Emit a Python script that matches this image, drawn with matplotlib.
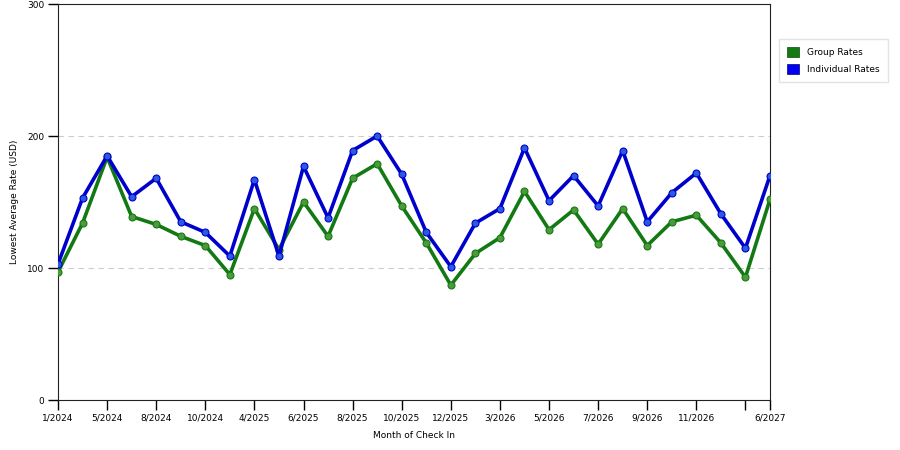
import matplotlib
matplotlib.use("Agg")
import matplotlib.pyplot as plt
from matplotlib.patches import Rectangle

months = ["1/2024", "3/2024", "5/2024", "7/2024", "8/2024", "9/2024",
          "10/2024", "3/2025", "4/2025", "5/2025", "6/2025", "7/2025",
          "8/2025", "9/2025", "10/2025", "11/2025", "12/2025", "2/2026",
          "3/2026", "4/2026", "5/2026", "6/2026", "7/2026", "8/2026",
          "9/2026", "10/2026", "11/2026", "12/2026", "4/2027", "6/2027"]

group_rates = [97, 134, 184, 139, 133, 124, 117, 95, 145, 114,
               150, 124, 168, 179, 147, 119, 87, 111, 123, 158,
               129, 144, 118, 145, 117, 135, 140, 119, 93, 152]

individual_rates = [103, 153, 185, 154, 168, 135, 127, 109, 167, 109,
                    177, 138, 189, 200, 171, 127, 101, 134, 145, 191,
                    151, 170, 147, 189, 135, 157, 172, 141, 115, 170]

tick_idx = [0, 2, 4, 6, 8, 10, 12, 14, 16, 18, 20, 22, 24, 26, 28, 29]
unlabeled = [28]

fig = plt.figure(figsize=(9, 4.5), dpi=100)
ax = fig.add_axes([58 / 900, 1 - 400 / 450, 712 / 900, 396 / 450])

x = list(range(len(months)))
ax.plot(x, group_rates, color="#137a13", lw=2.6, marker="o", ms=5,
        mfc="#4c9a3c", mec="#137a13", mew=0.8, zorder=3)
ax.plot(x, individual_rates, color="#0000cc", lw=2.6, marker="o", ms=5,
        mfc="#2a5ae0", mec="#0000cc", mew=0.8, zorder=4)

ax.set_xlim(0, len(months) - 1)
ax.set_ylim(0, 300)
ax.set_yticks([0, 100, 200, 300])
ax.set_xticks(tick_idx)
ax.set_xticklabels(["" if i in unlabeled else months[i] for i in tick_idx])
ax.tick_params(direction="out", length=7, width=1, labelsize=6.5, pad=3)
for y in [100, 200]:
    ax.axhline(y, color="#cccccc", lw=0.8, ls=(0, (5, 4)), zorder=1)

ax.set_xlabel("Month of Check In", fontsize=6.5, labelpad=6)
ax.set_ylabel("Lowest Average Rate (USD)", fontsize=6.5, labelpad=6)
for s in ax.spines.values():
    s.set_color("#222222")

# legend outside the plot, on the right
handles = [Rectangle((0, 0), 1, 1, fc="#137a13", ec="#0a4a0a", lw=0.5),
           Rectangle((0, 0), 1, 1, fc="#0000ee", ec="#000088", lw=0.5)]
ax.legend(handles, ["Group Rates", "Individual Rates"], loc="upper left",
          bbox_to_anchor=(779 / 900, 1 - 39 / 450),
          bbox_transform=fig.transFigure, fontsize=6.5, frameon=True,
          fancybox=False, edgecolor="#dddddd", handlelength=1.3,
          handleheight=1.3, borderpad=0.9, labelspacing=0.8,
          handletextpad=0.9, borderaxespad=0)

fig.savefig("out.png", dpi=100)
